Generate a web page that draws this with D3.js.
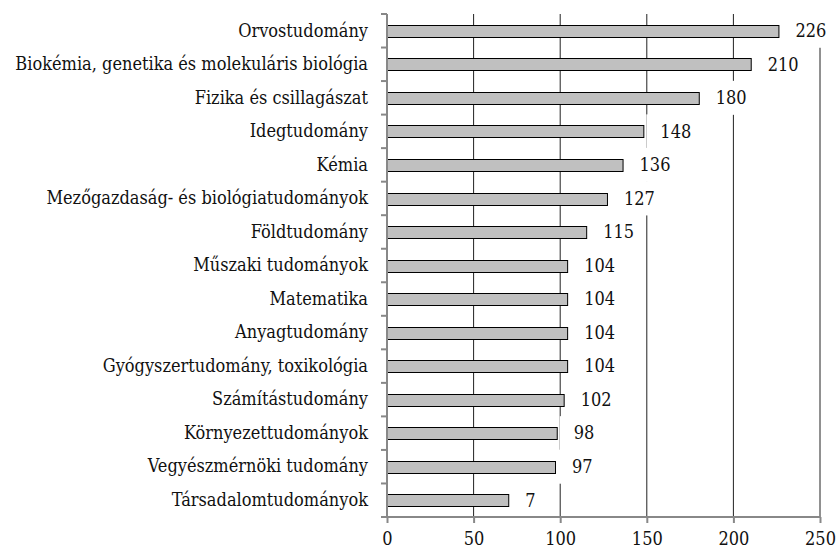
<!DOCTYPE html>
<html>
<head>
<meta charset="utf-8">
<script src="https://cdn.jsdelivr.net/npm/d3@7"></script>
<style>
  body { margin: 0; background: #fff; }
</style>
</head>
<body>
<div id="chart"></div>
<script>
// categories, top to bottom
var categories = [
  "Orvostudomány",
  "Biokémia, genetika és molekuláris biológia",
  "Fizika és csillagászat",
  "Idegtudomány",
  "Kémia",
  "Mezőgazdaság- és biológiatudományok",
  "Földtudomány",
  "Műszaki tudományok",
  "Matematika",
  "Anyagtudomány",
  "Gyógyszertudomány, toxikológia",
  "Számítástudomány",
  "Környezettudományok",
  "Vegyészmérnöki tudomány",
  "Társadalomtudományok"
];
// bar lengths as drawn
var values = [226, 210, 180, 148, 136, 127, 115, 104, 104, 104, 104, 102, 98, 97, 70];
// data labels as printed in the original (last one reads "7")
var valueLabels = ["226", "210", "180", "148", "136", "127", "115", "104", "104", "104", "104", "102", "98", "97", "7"];
var xTicks = [0, 50, 100, 150, 200, 250];

var FONT = "'DejaVu Serif Condensed', 'DejaVu Serif', serif";
var FS = 18;

var W = 836, H = 549;
var margin = { top: 14, right: 16, bottom: 32, left: 387 };
var width = W - margin.left - margin.right,
    height = H - margin.top - margin.bottom;

var root = d3.select("#chart").append("svg")
  .attr("width", W).attr("height", H)
  .attr("font-family", FONT);

// shrink the font if the longest category label is wider than in the original
var probe = root.append("text").attr("font-size", FS).text(categories[1]);
var longest = probe.node().getComputedTextLength();
probe.remove();
if (longest > 356) FS = FS * 356 / longest;

var svg = root.append("g")
  .attr("transform", "translate(" + margin.left + "," + margin.top + ")");

var x = d3.scaleLinear().domain([0, 250]).range([0, width]);
var y = d3.scaleBand().domain(categories).range([0, height]).paddingInner(0.65).paddingOuter(0.325);
var band = d3.scaleBand().domain(categories).range([0, height]);

// vertical gridlines
svg.append("g").selectAll("line")
  .data(xTicks.slice(1))
  .enter().append("line")
  .attr("x1", function (d) { return x(d); })
  .attr("x2", function (d) { return x(d); })
  .attr("y1", 0).attr("y2", height)
  .attr("stroke", "#222").attr("stroke-width", 1);

var data = categories.map(function (c, i) {
  return { cat: c, value: values[i], label: valueLabels[i] };
});

// bars
svg.append("g").selectAll("rect")
  .data(data)
  .enter().append("rect")
  .attr("x", 0.5)
  .attr("y", function (d) { return Math.round(y(d.cat)) + 0.5; })
  .attr("width", function (d) { return x(d.value); })
  .attr("height", Math.round(y.bandwidth()))
  .attr("fill", "#c0c0c0")
  .attr("stroke", "#000").attr("stroke-width", 1);

// data labels with white background (they hide the gridlines behind them)
var lab = svg.append("g").selectAll("g")
  .data(data)
  .enter().append("g")
  .attr("transform", function (d) {
    return "translate(" + (x(d.value) + 17) + "," + (band(d.cat) + band.bandwidth() / 2) + ")";
  });

lab.append("rect")
  .attr("class", "bg")
  .attr("fill", "#fff");

lab.append("text")
  .attr("dy", "0.35em")
  .attr("font-size", FS)
  .attr("fill", "#111")
  .text(function (d) { return d.label; });

lab.each(function () {
  var g = d3.select(this);
  var w = g.select("text").node().getComputedTextLength();
  g.select("rect.bg")
    .attr("x", -14).attr("y", -17)
    .attr("width", w + 19).attr("height", 34);
});

// y axis
var yAxis = svg.append("g").call(d3.axisLeft(band).tickSize(0).tickPadding(19));
yAxis.attr("font-family", FONT).attr("font-size", FS);
yAxis.select(".domain").remove();
yAxis.selectAll("text").attr("fill", "#111");

svg.append("g").selectAll("line")
  .data(d3.range(categories.length + 1))
  .enter().append("line")
  .attr("x1", -6).attr("x2", 0)
  .attr("y1", function (i) { return i * band.step(); })
  .attr("y2", function (i) { return i * band.step(); })
  .attr("stroke", "#888").attr("stroke-width", 2);

svg.append("line")
  .attr("x1", 0).attr("x2", 0).attr("y1", 0).attr("y2", height)
  .attr("stroke", "#888").attr("stroke-width", 2);

// x axis
var xAxis = svg.append("g")
  .attr("transform", "translate(0," + height + ")")
  .call(d3.axisBottom(x).tickValues(xTicks).tickSize(6).tickPadding(9).tickSizeOuter(0));
xAxis.attr("font-family", FONT).attr("font-size", FS);
xAxis.select(".domain").attr("stroke", "#888").attr("stroke-width", 2).attr("d", "M-6,0H" + width);
xAxis.selectAll(".tick line").attr("stroke", "#888").attr("stroke-width", 2);
xAxis.selectAll("text").attr("fill", "#111");
</script>
</body>
</html>
